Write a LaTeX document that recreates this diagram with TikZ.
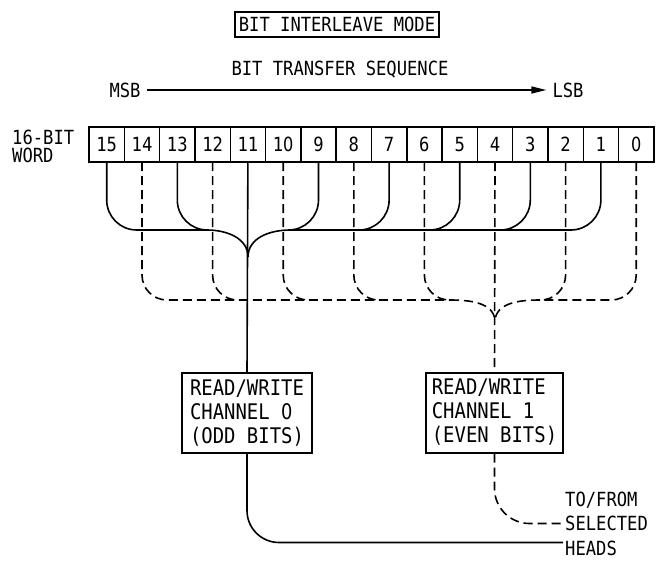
\documentclass[tikz,border=0pt]{standalone}
\usepackage{fontspec}
\newfontfamily\plotfont[FakeStretch=0.88]{DejaVu Sans Mono}
\newfontfamily\zerofont[FakeStretch=0.92]{DejaVu Sans Condensed}
\newcommand{\zerodigit}{{\zerofont 0}}
\usetikzlibrary{arrows.meta, positioning}

\begin{document}
\begin{tikzpicture}[x=1pt, y=-1pt,
    cell/.style={rectangle, draw, line width=1.5pt, minimum width=35.3pt, minimum height=35pt, inner sep=0pt, outer sep=0pt, font=\plotfont\fontsize{19.5}{22}\selectfont},
    chan/.style={rectangle, draw, line width=2pt, align=left, inner sep=5pt, minimum height=80pt, font=\plotfont\fontsize{21.5}{24}\selectfont},
    label/.style={inner sep=2pt, font=\plotfont\fontsize{19.5}{24.5}\selectfont},
    oddline/.style={line width=1.6pt, rounded corners=30pt},
    evenline/.style={line width=1.6pt, dash pattern=on 9pt off 5pt, rounded corners=25pt},
    arrow/.style={line width=1.6pt, -{Triangle[length=15pt, width=7pt]}}]
    \useasboundingbox (0,0) rectangle (670,563);

    % headings
    \node [label, draw, line width=2pt, minimum height=25pt, inner sep=4pt] (title) at (337,24.5) {BIT INTERLEAVE MODE};
    \node [label] (seq) at (340,70) {BIT TRANSFER SEQUENCE};
    \node [label, inner sep=6pt] (msb) at (125,90) {MSB};
    \node [label, inner sep=6pt] (lsb) at (568,90) {LSB};
    \draw [arrow] (msb) -- (lsb);

    % the word
    \node [label, align=left, anchor=west, font=\plotfont\fontsize{19.5}{18}\selectfont] (word) at (10,146) {16-BIT\\WORD};
    \node [cell] (b15) at (106.7,144.5) {15};
    \node [cell, right=0pt of b15] (b14) {14};
    \node [cell, right=0pt of b14] (b13) {13};
    \node [cell, right=0pt of b13] (b12) {12};
    \node [cell, right=0pt of b12] (b11) {11};
    \node [cell, right=0pt of b11] (b10) {1\zerodigit};
    \node [cell, right=0pt of b10] (b9) {9};
    \node [cell, right=0pt of b9] (b8) {8};
    \node [cell, right=0pt of b8] (b7) {7};
    \node [cell, right=0pt of b7] (b6) {6};
    \node [cell, right=0pt of b6] (b5) {5};
    \node [cell, right=0pt of b5] (b4) {4};
    \node [cell, right=0pt of b4] (b3) {3};
    \node [cell, right=0pt of b3] (b2) {2};
    \node [cell, right=0pt of b2] (b1) {1};
    \node [cell, right=0pt of b1] (b0) {\zerodigit};
    \draw [line width=2.6pt] (b15.north west) rectangle (b0.south east);

    % channels
    \node [chan, minimum width=130pt] (ch0) at (247,413) {READ/WRITE\\CHANNEL \zerodigit\\(ODD BITS)};
    \node [chan, minimum width=137pt] (ch1) at (494.5,412.5) {READ/WRITE\\CHANNEL 1\\(EVEN BITS)};
    \node [label, align=left, anchor=west] (dest) at (563,523.5) {TO/FROM\\SELECTED\\HEADS};

    % odd bits
    \coordinate (oddL) at (207,230);
    \coordinate (oddR) at (290,230);
    \coordinate (oddM) at (248,257);
    \draw [oddline] (b15.south) |- (oddL);
    \draw [oddline] (b13.south) |- ([xshift=30pt]b13.south |- oddL);
    \draw [oddline] (b1.south) |- (oddR);
    \draw [oddline] (b9.south) |- ([xshift=-30pt]b9.south |- oddR);
    \draw [oddline] (b7.south) |- ([xshift=-30pt]b7.south |- oddR);
    \draw [oddline] (b5.south) |- ([xshift=-30pt]b5.south |- oddR);
    \draw [oddline] (b3.south) |- ([xshift=-30pt]b3.south |- oddR);
    \draw [oddline] (oddL) to[out=0, in=90] (oddM);
    \draw [oddline] (oddR) to[out=180, in=90] (oddM);
    \draw [oddline] (b11.south) -- (ch0.north);

    % even bits
    \coordinate (evenL) at (450,300);
    \coordinate (evenR) at (540,300);
    \coordinate (evenM) at (495,322);
    \draw [evenline] (b14.south) |- (evenL);
    \draw [evenline] (b12.south) |- ([xshift=25pt]b12.south |- evenL);
    \draw [evenline] (b10.south) |- ([xshift=25pt]b10.south |- evenL);
    \draw [evenline] (b8.south) |- ([xshift=25pt]b8.south |- evenL);
    \draw [evenline] (b6.south) |- ([xshift=25pt]b6.south |- evenL);
    \draw [evenline] (b0.south) |- (evenR);
    \draw [evenline] (b2.south) |- ([xshift=-25pt]b2.south |- evenR);
    \draw [evenline] (evenL) to[out=0, in=90] (evenM);
    \draw [evenline] (evenR) to[out=180, in=90] (evenM);
    \draw [evenline] (b4.south) -- (ch1.north);

    % to the heads
    \draw [oddline, rounded corners=32pt] (ch0.south) |- ([yshift=-19pt]dest.west);
    \draw [evenline, rounded corners=35pt] (ch1.south) |- (dest.west);
\end{tikzpicture}
\end{document}
